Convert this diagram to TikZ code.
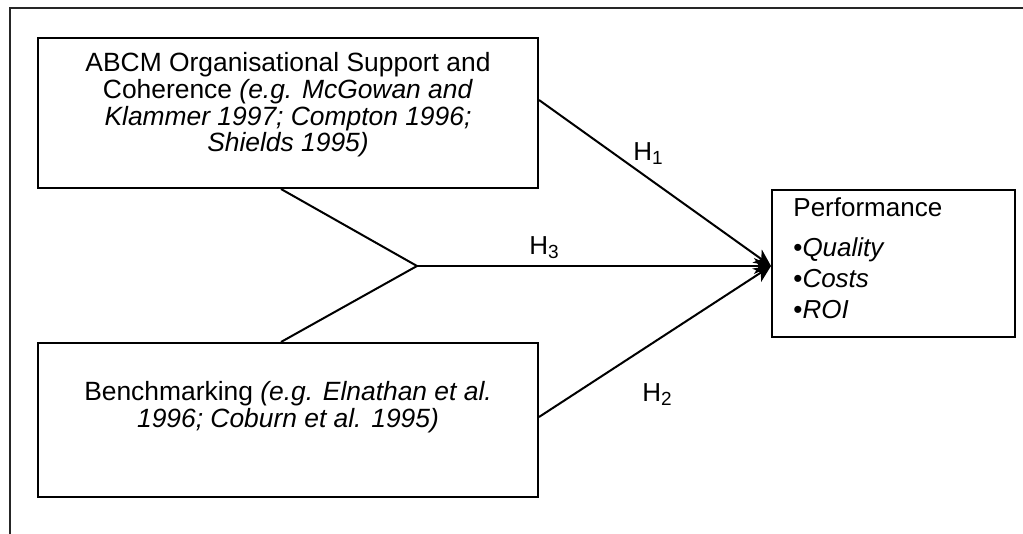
\documentclass[tikz,border=0pt]{standalone}
\usepackage{fontspec}
\setmainfont{Liberation Sans}
\usepackage{tikz}
\usetikzlibrary{arrows.meta,positioning,calc}

\tikzset{
  box/.style={draw, line width=1pt, rectangle, inner sep=0pt},
  plainline/.style={line width=1pt},
  link/.style={line width=1pt, -{Stealth[length=8.5pt,width=8pt,inset=2.5pt]}},
  boxtext/.style={anchor=north, inner sep=0pt, align=center, font=\fontsize{13.2}{13.4}\selectfont},
  hlabel/.style={anchor=base west, inner sep=0pt, font=\fontsize{13}{13.4}\selectfont},
}
\newcommand{\hyp}[1]{H\raisebox{-2pt}{\fontsize{9.5}{9.5}\selectfont #1}}

\begin{document}
\begin{tikzpicture}[x=0.5pt, y=-0.5pt]
        \useasboundingbox (0,0) rectangle (1023,534);

        % frame
        \draw [line width=1pt, black!85] (1023,8) -- (10,8) -- (10,534);

        % boxes
        \node [box, minimum width=250pt, minimum height=75pt] (abcm) at (288,113) {};
        \node [box, minimum width=250pt, minimum height=77pt] (bench) at (288,420) {};
        \node [box, minimum width=121.5pt, minimum height=73.5pt] (perf) at (893.5,263.5) {};

        % box texts
        \node [boxtext] (abcmtext) at (288,52) {ABCM Organisational Support and\\
            Coherence \textit{(e.g. McGowan and}\\
            \textit{Klammer 1997; Compton 1996;}\\
            \textit{Shields 1995)}};
        \node [boxtext] (benchtext) at (288,381) {Benchmarking \textit{(e.g. Elnathan et al.}\\
            \textit{1996; Coburn et al. 1995)}};
        \node [anchor=north west, inner sep=0pt, align=left,
               font=\fontsize{13}{15.5}\selectfont] (perftext) at (793,197) {Performance\\[4.5pt]
            •\textit{Quality}\\
            •\textit{Costs}\\
            •\textit{ROI}};

        % connectors
        \coordinate (join) at (417,266);
        \draw [plainline] ([xshift=-3.5pt]abcm.south) -- (join);
        \draw [plainline] ([xshift=-3.5pt]bench.north) -- (join);
        \draw [link] (join) -- ([yshift=-1.25pt]perf.west);
        \draw [link] ([yshift=6.5pt]abcm.east) -- ([yshift=-1.25pt]perf.west);
        \draw [link] ([yshift=1.5pt]bench.east) -- ([yshift=-1.25pt]perf.west);

        % hypotheses
        \node [hlabel] (h1) at (633,161) {\hyp{1}};
        \node [hlabel] (h3) at (529,255) {\hyp{3}};
        \node [hlabel] (h2) at (642,401) {\hyp{2}};
\end{tikzpicture}
\end{document}
